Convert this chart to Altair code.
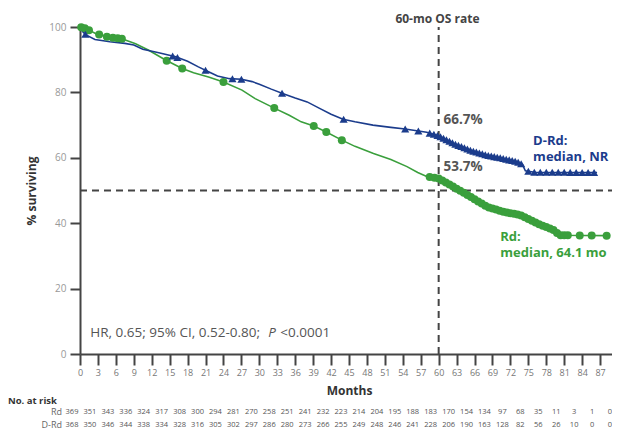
import altair as alt
import numpy as np
import pandas as pd

# ---- Kaplan-Meier curves (months, % surviving) ----
drd_t = [0, 0.5, 1, 2.5, 5, 7.5, 9, 10.5, 13, 16, 18, 19.8, 21.5, 23, 25, 27, 28.8, 30, 32, 34, 36, 38,
         40, 42, 44, 46, 49, 52, 54.4, 56.6, 58, 59, 60, 62.5, 65.3, 68.1, 70.8, 73.1, 74, 74.5, 76, 86.5]
drd_s = [100, 98.5, 97.6, 96.2, 95.5, 95, 94.5, 93.2, 92.2, 90.9, 89.5, 87.8, 86.3, 85, 84.2, 84, 83.3, 82.5, 81, 79.6, 78.3, 77.1,
         75.2, 73.3, 71.8, 71, 70, 69.3, 68.8, 68.2, 67.8, 67.3, 66.7, 64.4, 62.3, 60.8, 59.8, 58.8, 58, 56, 55.6, 55.5]

rd_t = [0, 1, 2.6, 4.8, 7, 9.3, 11.5, 14.3, 17.1, 19, 21.5, 24, 27.1, 29.3, 32.5, 35, 37, 39.1, 41.2, 43.8,
        46, 49.1, 52, 54.7, 56.5, 58, 60, 62.5, 65.3, 68.1, 70.8, 73.6, 76.4, 79.2, 80.3, 88.1]
rd_s = [100, 99.5, 98, 96.9, 96.4, 94.9, 92.9, 89.9, 87.3, 86, 84.7, 83.2, 80.7, 78.1, 75.2, 73, 71, 69.7, 67.9, 65.4,
        63.5, 61.3, 59.5, 57.3, 55.5, 54.3, 53.7, 51.1, 48.1, 45, 43.5, 42.5, 40, 37.9, 36.3, 36.2]

# censoring times (markers)
drd_cens = [0.9, 15.5, 16.3, 21, 25.5, 27, 33.8, 44.1, 54.4, 56.6, 58.5, 59.2, 59.8, 60.3, 60.8, 61.3, 61.8,
            62.3, 62.8, 63.3, 63.8, 64.3, 64.8, 65.3, 65.8, 66.3, 66.8, 67.3, 67.8, 68.3, 68.8, 69.3, 69.8,
            70.3, 70.8, 71.3, 71.8, 72.3, 72.8, 73.3, 73.8, 75, 76, 77, 78, 79, 80, 81, 82, 83, 84, 85, 86]
rd_cens = [0.2, 0.8, 1.5, 3.2, 4.5, 5.5, 6.3, 7, 14.5, 17.1, 24, 32.5, 39.1, 41.2, 43.8, 58.5, 59.3, 60,
           60.6, 61.2, 61.8, 62.4, 63, 63.6, 64.2, 64.8, 65.4, 66, 66.6, 67.2, 67.8, 68.4, 69, 69.6, 70.2,
           70.8, 71.4, 72, 72.6, 73.2, 73.8, 74.4, 75, 75.6, 76.2, 76.8, 77.4, 78, 78.6, 79.2, 79.8, 80.4,
           81, 81.6, 83.6, 85.6, 88.1]

# ---- number at risk table ----
risk_months = list(range(0, 91, 3))
rd_risk = [369, 351, 343, 336, 324, 317, 308, 300, 294, 281, 270, 258, 251, 241, 232, 223, 214, 204, 195, 188,
           183, 170, 154, 134, 97, 68, 35, 11, 3, 1, 0]
drd_risk = [368, 350, 346, 344, 338, 334, 328, 316, 305, 302, 297, 286, 280, 273, 266, 255, 249, 248, 246, 241,
            228, 206, 190, 163, 128, 82, 56, 26, 10, 0, 0]

y_ticks = [0, 20, 40, 60, 80, 100]

NAVY = "#1b3c8c"
GREEN = "#3a9f3c"
DARK = "#444444"
FONT = "Open Sans"

xscale = alt.Scale(domain=[0, 90], nice=False, zero=False)
yscale = alt.Scale(domain=[0, 100], nice=False)

xaxis = alt.Axis(values=risk_months, title="Months", grid=False, labelFontSize=9, labelColor="#777777",
                 labelFont=FONT, tickSize=11, tickWidth=2, tickColor=DARK, domainColor=DARK, domainWidth=2,
                 labelPadding=3, titlePadding=8, titleFont=FONT, titleFontSize=12, titleFontWeight="bold",
                 titleColor="#333333", labelFlush=False, labelOverlap=False)
yaxis = alt.Axis(values=y_ticks, title="% surviving", grid=False, labelFontSize=10, labelColor="#999999",
                 labelFont=FONT, tickSize=10, tickWidth=2, tickColor=DARK, domainColor=DARK, domainWidth=2,
                 labelPadding=4, titlePadding=10, titleFont=FONT, titleFontSize=12, titleFontWeight="bold",
                 titleColor="#333333")


def X(field="t"):
    return alt.X(f"{field}:Q", scale=xscale, axis=xaxis)


def Y(field="s"):
    return alt.Y(f"{field}:Q", scale=yscale, axis=yaxis)


drd_df = pd.DataFrame({"t": drd_t, "s": drd_s})
rd_df = pd.DataFrame({"t": rd_t, "s": rd_s})
drd_c = pd.DataFrame({"t": drd_cens, "s": np.interp(drd_cens, drd_t, drd_s)})
rd_c = pd.DataFrame({"t": rd_cens, "s": np.interp(rd_cens, rd_t, rd_s)})

hline = alt.Chart(pd.DataFrame({"t": [0], "t2": [90], "s": [50]})).mark_rule(
    color=DARK, strokeWidth=2, strokeDash=[7, 5]).encode(x=X(), x2="t2:Q", y=Y())
vline = alt.Chart(pd.DataFrame({"t": [60], "s": [0], "s2": [100]})).mark_rule(
    color=DARK, strokeWidth=2, strokeDash=[7, 5]).encode(x=X(), y=Y(), y2="s2:Q")

rd_line = alt.Chart(rd_df).mark_line(color=GREEN, strokeWidth=1.6).encode(x=X(), y=Y())
drd_line = alt.Chart(drd_df).mark_line(color=NAVY, strokeWidth=1.6).encode(x=X(), y=Y())
rd_pts = alt.Chart(rd_c).mark_circle(color=GREEN, size=64, opacity=1).encode(x=X(), y=Y())
drd_pts = alt.Chart(drd_c).mark_point(shape="triangle-up", filled=True, color=NAVY, size=66,
                                       opacity=1).encode(x=X(), y=Y())

# annotations
ann = pd.DataFrame({
    "t": [60.8, 60.8],
    "s": [71.5, 57.3],
    "txt": ["66.7%", "53.7%"],
})
ann_pct = alt.Chart(ann).mark_text(align="left", baseline="middle", font=FONT, fontSize=13.5,
                                   fontWeight="bold", color="#555555").encode(x=X(), y=Y(), text="txt:N")

drd_lab = alt.Chart(pd.DataFrame({"t": [75.8, 75.8], "s": [65.0, 60.3], "txt": ["D-Rd:", "median, NR"]})).mark_text(
    align="left", baseline="middle", font=FONT, fontSize=13, fontWeight="bold", color=NAVY).encode(
    x=X(), y=Y(), text="txt:N")
rd_lab = alt.Chart(pd.DataFrame({"t": [70.3, 70.3], "s": [35.9, 31.0], "txt": ["Rd:", "median, 64.1 mo"]})).mark_text(
    align="left", baseline="middle", font=FONT, fontSize=13, fontWeight="bold", color=GREEN).encode(
    x=X(), y=Y(), text="txt:N")

os_title = alt.Chart(pd.DataFrame({"t": [59.8], "txt": ["60-mo OS rate"]})).mark_text(
    align="center", baseline="middle", font=FONT, fontSize=12, fontWeight="bold", color=DARK).encode(
    x=X(), y=alt.value(-8), text="txt:N")

hr1 = alt.Chart(pd.DataFrame({"t": [1.72], "s": [6.4], "txt": ["HR, 0.65; 95% CI, 0.52-0.80;"]})).mark_text(
    align="left", baseline="middle", font=FONT, fontSize=13.5, color="#555555").encode(
    x=X(), y=Y(), text="txt:N")
hr2 = alt.Chart(pd.DataFrame({"t": [31.5], "s": [6.4], "txt": ["P"]})).mark_text(
    align="left", baseline="middle", font=FONT, fontSize=13.5, fontStyle="italic",
    color="#555555").encode(x=X(), y=Y(), text="txt:N")
hr3 = alt.Chart(pd.DataFrame({"t": [33.5], "s": [6.4], "txt": ["<0.0001"]})).mark_text(
    align="left", baseline="middle", font=FONT, fontSize=13.5, color="#555555").encode(
    x=X(), y=Y(), text="txt:N")

# number at risk rows
risk_rd = alt.Chart(pd.DataFrame({"t": risk_months, "n": rd_risk})).mark_text(
    align="center", baseline="middle", font=FONT, fontSize=7.5, color="#555555", dx=-8).encode(
    x=X(), y=alt.value(385), text="n:Q")
risk_drd = alt.Chart(pd.DataFrame({"t": risk_months, "n": drd_risk})).mark_text(
    align="center", baseline="middle", font=FONT, fontSize=7.5, color="#555555", dx=-8).encode(
    x=X(), y=alt.value(398), text="n:Q")
risk_head = alt.Chart(pd.DataFrame({"a": [0]})).mark_text(
    text="No. at risk", align="left", baseline="middle", font=FONT, fontSize=9.5, fontWeight="bold",
    color="#333333").encode(x=alt.value(-72), y=alt.value(374))
risk_names = alt.Chart(pd.DataFrame({"lab": ["Rd", "D-Rd"], "yy": [385, 398]})).mark_text(
    align="right", baseline="middle", font=FONT, fontSize=9, color="#666666").encode(
    x=alt.value(-18), y=alt.Y("yy:Q", scale=None, axis=None), text="lab:N")

chart = alt.layer(
    hline, vline, rd_line, drd_line, rd_pts, drd_pts, ann_pct, drd_lab, rd_lab, os_title,
    hr1, hr2, hr3, risk_rd, risk_drd, risk_head, risk_names
).properties(
    width=538, height=327,
    autosize=alt.AutoSizeParams(type="none"),
    padding={"left": 72, "top": 19, "right": -6, "bottom": 75},
    background="white",
).configure_view(stroke=None)

chart.save("out.html", embed_options={"renderer": "svg", "actions": False})
